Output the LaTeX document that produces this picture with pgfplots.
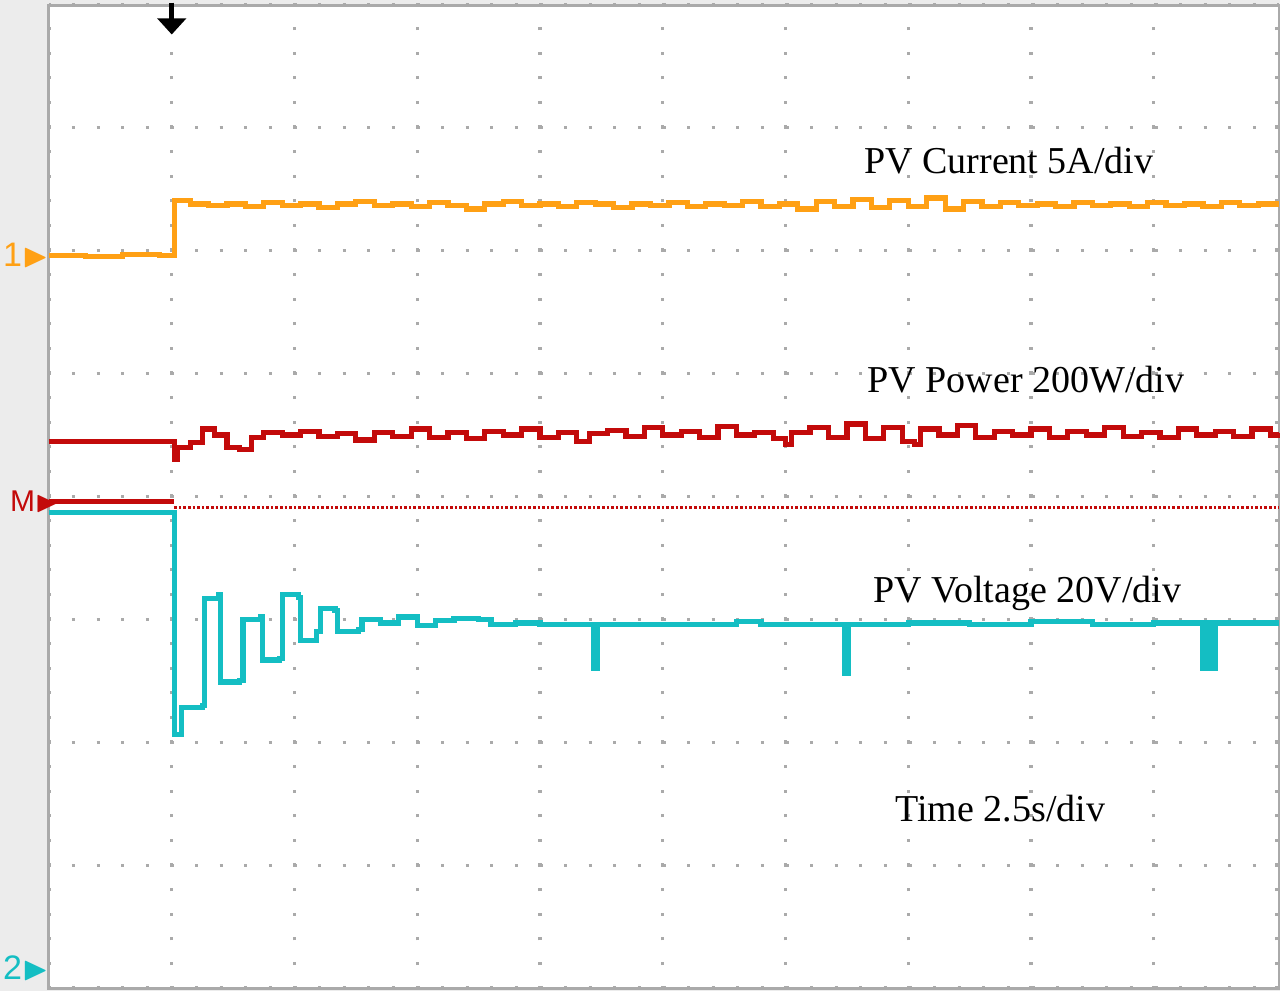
\documentclass[border=0pt]{standalone}
\usepackage{pgfplots}
\pgfplotsset{compat=1.18}
\usetikzlibrary{arrows.meta}
\usepackage{amssymb}
\usepackage{fontspec}
\setmainfont{Liberation Serif}
\newfontfamily\sans{Liberation Sans}
\definecolor{cur}{RGB}{255,160,20}
\definecolor{pow}{RGB}{195,10,10}
\definecolor{vol}{RGB}{20,190,195}
\definecolor{gridc}{RGB}{170,170,170}
\begin{document}
\begin{tikzpicture}
\useasboundingbox (0,0) rectangle (640pt,495.5pt);
\fill[gray!15] (0,0) rectangle (640pt,495.5pt);
\begin{axis}[at={(24.5pt,1.5pt)},anchor=south west,scale only axis,
 width=615pt,height=491.5pt,xmin=0,xmax=10.02,ymin=-4,ymax=4,
 axis background/.style={fill=white},
 axis line style={gridc,line width=1.5pt},
 xtick={0,...,10},ytick={-4,...,4},xticklabels={},yticklabels={},
 major tick length=0pt,
 grid=major,major grid style={gridc,line width=1.6pt,dash pattern=on 1.6pt off 10.7pt,dash phase=0.8pt},
 clip=false]
\addplot[pow,densely dotted,line width=1.3pt] coordinates {(1.02,-0.09)(10.02,-0.09)};
\addplot[cur,line width=2.6pt,const plot] coordinates {
(0,1.96)(0.3,1.95)(0.6,1.97)(0.9,1.96)(1.02,1.96)(1.02,2.41)(1.15,2.38)(1.3,2.37)(1.45,2.38)(1.6,2.36)(1.75,2.39)(1.9,2.37)(2.05,2.38)(2.2,2.35)(2.35,2.38)(2.5,2.40)(2.65,2.37)(2.8,2.38)(2.95,2.36)(3.1,2.39)(3.25,2.37)(3.4,2.34)(3.55,2.38)(3.7,2.40)(3.85,2.37)(4.0,2.38)(4.15,2.36)(4.3,2.39)(4.45,2.38)(4.6,2.35)(4.75,2.38)(4.9,2.37)(5.05,2.39)(5.2,2.36)(5.35,2.38)(5.5,2.37)(5.65,2.40)(5.8,2.36)(5.95,2.38)(6.1,2.34)(6.25,2.40)(6.4,2.36)(6.55,2.42)(6.7,2.35)(6.85,2.41)(7.0,2.36)(7.15,2.43)(7.3,2.34)(7.45,2.40)(7.6,2.36)(7.75,2.39)(7.9,2.37)(8.05,2.38)(8.2,2.36)(8.35,2.39)(8.5,2.37)(8.65,2.38)(8.8,2.36)(8.95,2.39)(9.1,2.37)(9.25,2.38)(9.4,2.36)(9.55,2.39)(9.7,2.37)(9.85,2.38)(10.02,2.38)};
\addplot[pow,line width=2.6pt,const plot] coordinates {
(0,0.45)(1.02,0.45)(1.02,0.30)(1.05,0.40)(1.15,0.44)(1.25,0.55)(1.35,0.50)(1.45,0.40)(1.55,0.38)(1.65,0.48)(1.75,0.52)(1.9,0.50)(2.05,0.53)(2.2,0.49)(2.35,0.51)(2.5,0.46)(2.65,0.52)(2.8,0.49)(2.95,0.55)(3.1,0.48)(3.25,0.52)(3.4,0.47)(3.55,0.53)(3.7,0.50)(3.85,0.55)(4.0,0.48)(4.15,0.52)(4.3,0.45)(4.4,0.51)(4.55,0.54)(4.7,0.49)(4.85,0.56)(5.0,0.50)(5.15,0.53)(5.3,0.48)(5.45,0.57)(5.6,0.50)(5.75,0.52)(5.9,0.47)(6.0,0.42)(6.05,0.52)(6.2,0.56)(6.35,0.48)(6.5,0.59)(6.65,0.47)(6.8,0.56)(6.95,0.45)(7.05,0.42)(7.1,0.55)(7.25,0.50)(7.4,0.58)(7.55,0.48)(7.7,0.53)(7.85,0.50)(8.0,0.55)(8.15,0.48)(8.3,0.53)(8.45,0.50)(8.6,0.56)(8.75,0.49)(8.9,0.52)(9.05,0.48)(9.2,0.55)(9.35,0.50)(9.5,0.53)(9.65,0.49)(9.8,0.55)(9.95,0.50)(10.02,0.52)};
\addplot[pow,line width=2.6pt] coordinates {(0,-0.04)(1.02,-0.04)};
\addplot[vol,line width=2.6pt,const plot] coordinates {
(0,-0.13)(1.02,-0.13)(1.02,-1.94)(1.08,-1.72)(1.25,-1.70)(1.27,-0.83)(1.38,-0.80)(1.40,-1.51)(1.55,-1.50)(1.58,-1.00)(1.72,-0.98)(1.74,-1.33)(1.88,-1.32)(1.90,-0.80)(2.03,-0.82)(2.05,-1.17)(2.18,-1.10)(2.21,-0.91)(2.33,-0.93)(2.35,-1.10)(2.52,-1.08)(2.55,-1.00)(2.7,-1.03)(2.85,-0.98)(3.0,-1.05)(3.15,-1.01)(3.3,-0.99)(3.5,-1.00)(3.6,-1.04)(3.8,-1.03)(4.0,-1.04)(4.4,-1.04)(4.44,-1.40)(4.47,-1.04)(5.0,-1.04)(5.6,-1.02)(5.8,-1.04)(6.0,-1.04)(6.46,-1.04)(6.48,-1.44)(6.51,-1.04)(7.0,-1.03)(7.5,-1.04)(8.0,-1.02)(8.5,-1.04)(9.0,-1.03)(9.39,-1.03)(9.40,-1.40)(9.43,-1.03)(9.47,-1.40)(9.50,-1.03)(10.02,-1.03)};
\node[font=\fontsize{19}{22}\selectfont] at (axis cs:7.82,2.73) {PV Current 5A/div};
\node[font=\fontsize{19}{22}\selectfont] at (axis cs:7.96,0.95) {PV Power 200W/div};
\node[font=\fontsize{19}{22}\selectfont] at (axis cs:7.97,-0.79) {PV Voltage 20V/div};
\node[font=\fontsize{19}{22}\selectfont] at (axis cs:7.75,-2.54) {Time 2.5s/div};
\draw[black,line width=2.5pt,-{Triangle[length=8pt,width=14pt]}] (axis cs:1.0,4.02) -- (axis cs:1.0,3.76);
\node[cur,font=\sans\fontsize{17}{18}\selectfont,anchor=east,inner sep=0pt] at (axis cs:0,1.96) {1\(\blacktriangleright\)};
\node[pow,font=\sans\fontsize{15}{16}\selectfont,anchor=east,inner sep=0pt] at (axis cs:0.08,-0.04) {M\(\blacktriangleright\)};
\node[vol,font=\sans\fontsize{17}{18}\selectfont,anchor=east,inner sep=0pt] at (axis cs:0,-3.84) {2\(\blacktriangleright\)};
\end{axis}
\end{tikzpicture}
\end{document}
